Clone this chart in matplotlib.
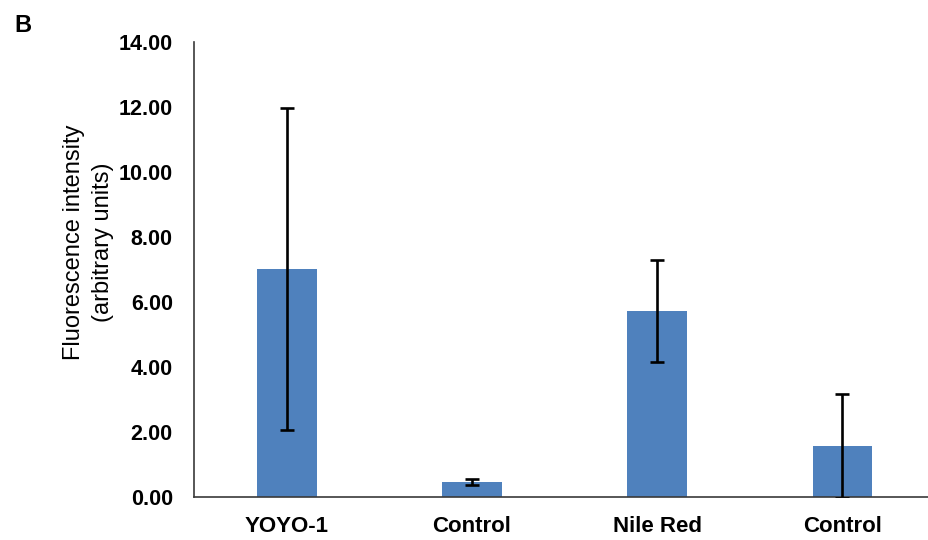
import matplotlib
matplotlib.use("Agg")
import matplotlib.pyplot as plt
import numpy as np

# values
categories = ["YOYO-1", "Control", "Nile Red", "Control"]
intensity = [7.00, 0.45, 5.71, 1.56]
errors = [4.95, 0.09, 1.57, 1.61]
y_ticks = [0, 2, 4, 6, 8, 10, 12, 14]

plt.rcParams['font.family'] = ['Liberation Sans', 'DejaVu Sans']

fig = plt.figure(figsize=(9.29, 5.4), dpi=100)
ax = fig.add_axes([0.2092, 0.0802, 0.797, 0.8426])

x = np.arange(len(categories))
ax.bar(x, intensity, width=0.32, color="#4F81BD", zorder=2)
ax.errorbar(x, intensity, yerr=errors, fmt="none", ecolor="black",
            elinewidth=1.9, capsize=5, capthick=1.9, zorder=3, clip_on=True)

ax.set_xlim(-0.5, 3.5)
ax.set_ylim(0, 14)
ax.set_yticks(y_ticks)
ax.set_yticklabels([f"{v:.2f}" for v in y_ticks], fontsize=15.5, fontweight="bold")
ax.set_xticks(x)
ax.set_xticklabels(categories, fontsize=16, fontweight="bold")
ax.tick_params(axis="y", length=0, pad=15.5)
ax.tick_params(axis="x", length=0, pad=14)

for side in ["top", "right"]:
    ax.spines[side].set_visible(False)
for side in ["left", "bottom"]:
    ax.spines[side].set_color("#3a3a3a")
    ax.spines[side].set_linewidth(1.2)

ax.set_ylabel("Fluorescence intensity\n(arbitrary units)", fontsize=17,
              linespacing=1.38)
ax.yaxis.set_label_coords(-0.109, 0.56)

fig.text(0.016, 0.975, "B", fontsize=17, fontweight="bold", va="top", ha="left")

fig.savefig("out.png", dpi=100)
